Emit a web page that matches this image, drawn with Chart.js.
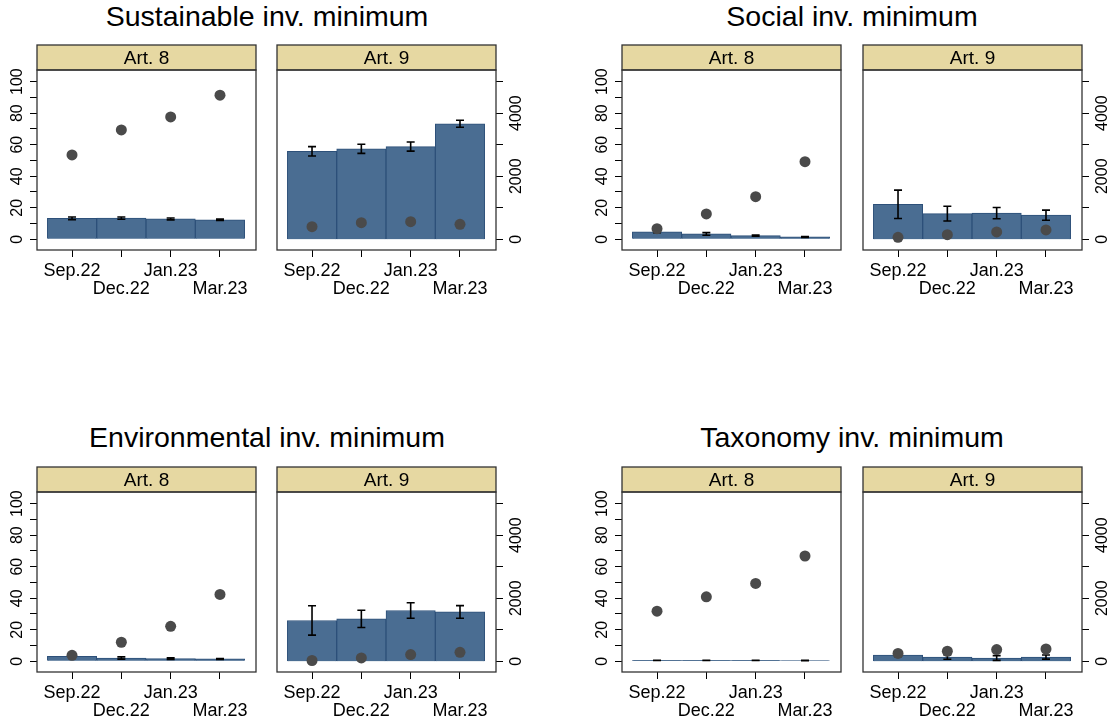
<!DOCTYPE html>
<html>
<head>
<meta charset="utf-8">
<script src="https://cdn.jsdelivr.net/npm/chart.js@4.4.0/dist/chart.umd.min.js"></script>
<style>
  body { margin: 0; background: #fff; width: 1113px; height: 720px; position: relative; overflow: hidden;
         font-family: 'Liberation Sans', Arial, sans-serif; }
  canvas { position: absolute; }
  .title { position: absolute; width: 500px; text-align: center; font-size: 28.5px; line-height: 28px; color: #000; }
</style>
</head>
<body>
<div class="title" style="left:17px;top:2px">Sustainable inv. minimum</div>
<div class="title" style="left:602px;top:2px">Social inv. minimum</div>
<div class="title" style="left:17px;top:423px">Environmental inv. minimum</div>
<div class="title" style="left:602px;top:423px">Taxonomy inv. minimum</div>
<script>
// Reporting dates
var periods = ['Sep.22', 'Dec.22', 'Jan.23', 'Mar.23'];

// left axis: mean share in % (bars) with error half-widths
// right axis: number of funds (dots)
var pctTicks = [0, 10, 20, 30, 40, 50, 60, 70, 80, 90, 100];
var pctLabels = [0, 20, 40, 60, 80, 100];
var fundTicks = [0, 1000, 2000, 3000, 4000, 5000];
var fundLabels = [0, 2000, 4000];

var sustArt8Share = [13.3, 13.4, 12.9, 12.4];
var sustArt8Err = [0.8, 0.7, 0.6, 0.5];
var sustArt8Funds = [2675, 3470, 3880, 4570];
var sustArt9Share = [55.8, 57.4, 58.8, 73.3];
var sustArt9Err = [3.0, 2.9, 2.9, 2.2];
var sustArt9Funds = [400, 527, 558, 475];

var socArt8Share = [4.8, 3.4, 2.3, 1.5];
var socArt8Err = [0.6, 0.8, 0.4, 0.3];
var socArt8Funds = [335, 805, 1350, 2460];
var socArt9Share = [22.2, 16.3, 16.6, 15.3];
var socArt9Err = [9.0, 4.7, 3.6, 3.2];
var socArt9Funds = [63, 146, 232, 295];

var envArt8Share = [3.2, 2.1, 1.7, 1.5];
var envArt8Err = [0.6, 0.7, 0.5, 0.3];
var envArt8Funds = [190, 604, 1110, 2120];
var envArt9Share = [25.9, 26.9, 32.2, 31.3];
var envArt9Err = [9.3, 5.5, 4.9, 4.0];
var envArt9Funds = [25, 105, 212, 285];

var taxArt8Share = [0.6, 0.6, 0.6, 0.5];
var taxArt8Err = [0.1, 0.1, 0.1, 0.1];
var taxArt8Funds = [1590, 2045, 2470, 3340];
var taxArt9Share = [4.0, 2.7, 2.1, 2.7];
var taxArt9Err = [1.0, 1.4, 1.5, 1.3];
var taxArt9Funds = [250, 318, 370, 390];

var FONT = "'Liberation Sans', Arial, sans-serif";
var barFill = '#4a6d92';
var barEdge = '#2d5079';
var dotColor = '#4a4a4a';
var stripColor = '#e6d8a2';

// Draws one facet panel (Art. 8 or Art. 9) with its own canvas
function makePanel(x0, y0, article, share, err, funds, isLeft) {
  var boxW = 219, boxH = 180, stripH = 25;
  var mL = isLeft ? 45 : 6, mR = isLeft ? 6 : 45, mT = 27, mB = 52;
  var cv = document.createElement('canvas');
  cv.width = boxW + mL + mR;
  cv.height = boxH + mT + mB;
  cv.style.left = (x0 - mL) + 'px';
  cv.style.top = (y0 - mT) + 'px';
  document.body.appendChild(cv);

  var barData = share.map(function (v, i) { return { x: i, y: v }; });
  var dotData = funds.map(function (v, i) { return { x: i, y: v }; });

  // frame, strip, rotated y labels and error bars
  var framePlugin = {
    id: 'frame',
    beforeDraw: function (chart) {
      var a = chart.chartArea, ctx = chart.ctx;
      ctx.save();
      ctx.fillStyle = stripColor;
      ctx.fillRect(a.left, a.top - stripH, a.right - a.left, stripH);
      ctx.strokeStyle = '#333';
      ctx.lineWidth = 1.3;
      ctx.strokeRect(a.left, a.top - stripH, a.right - a.left, stripH);
      ctx.fillStyle = '#000';
      ctx.font = '19px ' + FONT;
      ctx.textAlign = 'center';
      ctx.textBaseline = 'middle';
      ctx.fillText(article, (a.left + a.right) / 2, a.top - stripH / 2 + 1);
      ctx.restore();
    },
    afterDraw: function (chart) {
      var a = chart.chartArea, ctx = chart.ctx;
      ctx.save();
      ctx.strokeStyle = '#333';
      ctx.lineWidth = 1.3;
      ctx.strokeRect(a.left, a.top, a.right - a.left, a.bottom - a.top);
      ctx.fillStyle = '#000';
      ctx.font = '16px ' + FONT;
      ctx.textAlign = 'center';
      ctx.textBaseline = 'middle';
      var sc = isLeft ? chart.scales.y : chart.scales.y1;
      var labs = isLeft ? pctLabels : fundLabels;
      var lx = isLeft ? a.left - 19 : a.right + 21;
      labs.forEach(function (v) {
        var py = sc.getPixelForValue(v);
        ctx.save();
        ctx.translate(lx, py);
        ctx.rotate(-Math.PI / 2);
        ctx.fillText(String(v), 0, 0);
        ctx.restore();
      });
      ctx.restore();
    },
    afterDatasetDraw: function (chart, args) {
      if (args.index !== 1) return;
      var ctx = chart.ctx, xs = chart.scales.x, ys = chart.scales.y;
      ctx.save();
      ctx.strokeStyle = '#000';
      ctx.lineWidth = 1.6;
      share.forEach(function (v, i) {
        var px = xs.getPixelForValue(i);
        var lo = ys.getPixelForValue(v - err[i]);
        var hi = ys.getPixelForValue(v + err[i]);
        ctx.beginPath();
        ctx.moveTo(px, lo); ctx.lineTo(px, hi);
        ctx.moveTo(px - 4, lo); ctx.lineTo(px + 4, lo);
        ctx.moveTo(px - 4, hi); ctx.lineTo(px + 4, hi);
        ctx.stroke();
      });
      ctx.restore();
    }
  };

  new Chart(cv, {
    type: 'bar',
    data: {
      datasets: [{
        type: 'scatter',
        data: dotData,
        yAxisID: 'y1',
        order: 0,
        pointRadius: 5.5,
        pointBackgroundColor: dotColor,
        pointBorderWidth: 0
      }, {
        type: 'bar',
        data: barData,
        yAxisID: 'y',
        order: 1,
        backgroundColor: barFill,
        borderColor: barEdge,
        borderWidth: 1,
        barPercentage: 1,
        categoryPercentage: 1
      }]
    },
    options: {
      responsive: false,
      animation: false,
      layout: { autoPadding: false, padding: { left: 0, right: 0, top: mT, bottom: 0 } },
      plugins: { legend: { display: false }, tooltip: { enabled: false } },
      scales: {
        x: {
          type: 'linear',
          offset: false,
          min: -0.71,
          max: 3.73,
          afterBuildTicks: function (scale) {
            scale.ticks = periods.map(function (p, i) { return { value: i }; });
          },
          afterFit: function (scale) { scale.height = mB; },
          grid: { offset: false, drawOnChartArea: false, drawTicks: true, tickLength: 7, color: '#000', lineWidth: 1 },
          border: { display: false },
          ticks: {
            autoSkip: false, minRotation: 0, maxRotation: 0, padding: 5, color: '#000',
            font: { family: FONT, size: 18, lineHeight: 1.0 },
            callback: function (v) {
              var i = Math.round(v);
              return i % 2 ? ['', periods[i]] : periods[i];
            }
          }
        },
        y: {
          type: 'linear',
          position: 'left',
          display: isLeft,
          min: -6.8,
          max: 107.4,
          afterBuildTicks: function (scale) {
            scale.ticks = pctTicks.map(function (v) { return { value: v }; });
          },
          afterFit: function (scale) { scale.width = mL; },
          grid: { drawOnChartArea: false, drawTicks: true, tickLength: 7, color: '#000', lineWidth: 1 },
          border: { display: false },
          ticks: { display: false }
        },
        y1: {
          type: 'linear',
          position: 'right',
          display: !isLeft,
          min: -340,
          max: 5370,
          afterBuildTicks: function (scale) {
            scale.ticks = fundTicks.map(function (v) { return { value: v }; });
          },
          afterFit: function (scale) { scale.width = mR; },
          grid: { drawOnChartArea: false, drawTicks: true, tickLength: 7, color: '#000', lineWidth: 1 },
          border: { display: false },
          ticks: { display: false }
        }
      }
    },
    plugins: [framePlugin]
  });
}

makePanel(37, 70, 'Art. 8', sustArt8Share, sustArt8Err, sustArt8Funds, true);
makePanel(277, 70, 'Art. 9', sustArt9Share, sustArt9Err, sustArt9Funds, false);
makePanel(622, 70, 'Art. 8', socArt8Share, socArt8Err, socArt8Funds, true);
makePanel(863, 70, 'Art. 9', socArt9Share, socArt9Err, socArt9Funds, false);
makePanel(37, 492, 'Art. 8', envArt8Share, envArt8Err, envArt8Funds, true);
makePanel(277, 492, 'Art. 9', envArt9Share, envArt9Err, envArt9Funds, false);
makePanel(622, 492, 'Art. 8', taxArt8Share, taxArt8Err, taxArt8Funds, true);
makePanel(863, 492, 'Art. 9', taxArt9Share, taxArt9Err, taxArt9Funds, false);
</script>
</body>
</html>
